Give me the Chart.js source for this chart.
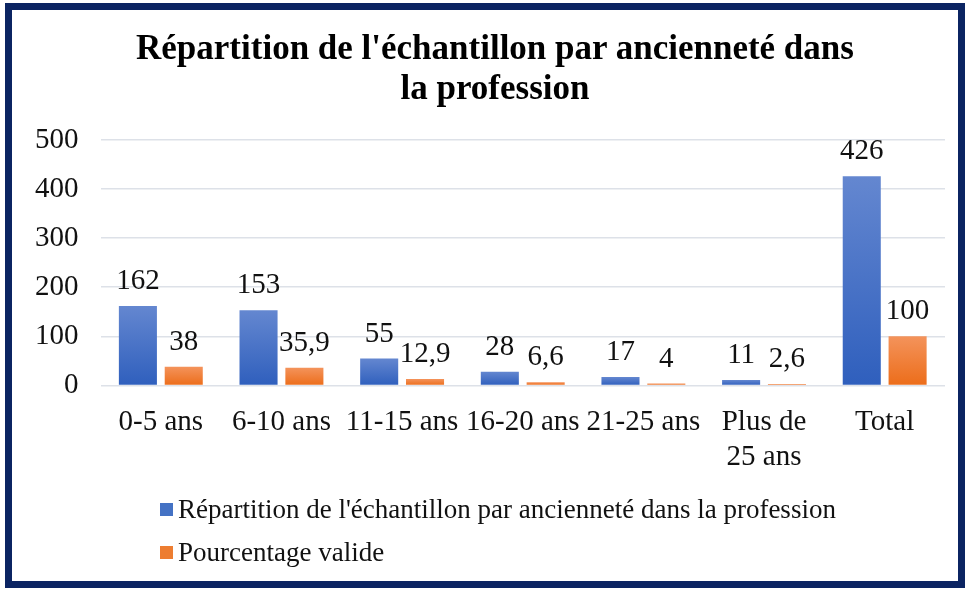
<!DOCTYPE html>
<html>
<head>
<meta charset="utf-8">
<script src="https://cdn.jsdelivr.net/npm/chart.js@4"></script>
<style>
  body { margin: 0; background: #fff; }
  #wrap { position: relative; width: 966px; height: 590px; }
  #frame {
    position: absolute; left: 5px; top: 3px; width: 946px; height: 571px;
    border: 7px solid #0b2462; pointer-events: none;
  }
  #titre {
    position: absolute; left: 95px; width: 800px; top: 28px; text-align: center;
    font-family: "Liberation Serif", "Times New Roman", serif; font-size: 35px; font-weight: bold;
    line-height: 40px; color: #000;
  }
  #legende {
    position: absolute; left: 160px; top: 488px;
    font-family: "Liberation Serif", "Times New Roman", serif; font-size: 27px; color: #111;
  }
  #legende div { height: 43px; display: flex; align-items: center; }
  #legende span.carre { display: inline-block; width: 13px; height: 13px; margin-right: 5px; }
</style>
</head>
<body>
<div id="wrap">
  <canvas id="graphique" width="966" height="590"></canvas>
  <div id="titre"></div>
  <div id="frame"></div>
  <div id="legende"></div>
</div>
<script>
const titre = ["Répartition de l'échantillon par ancienneté dans", 'la profession'];
const categories = ['0-5 ans', '6-10 ans', '11-15 ans', '16-20 ans', '21-25 ans', ['Plus de', '25 ans'], 'Total'];
const effectifs = [162, 153, 55, 28, 17, 11, 426];
const pourcentages = [38, 35.9, 12.9, 6.6, 4, 2.6, 100];
const yTicks = [0, 100, 200, 300, 400, 500];
const nomsSeries = ["Répartition de l'échantillon par ancienneté dans la profession", 'Pourcentage valide'];

const police = '"Liberation Serif", "Times New Roman", serif';

function degrade(haut, bas) {
    return function (context) {
        const chart = context.chart;
        if (!chart.chartArea || context.parsed === undefined) return bas;
        const yScale = chart.scales.y;
        const top = yScale.getPixelForValue(context.parsed.y);
        const bottom = yScale.getPixelForValue(0);
        if (bottom - top < 1) return bas;
        const g = chart.ctx.createLinearGradient(0, top, 0, bottom);
        g.addColorStop(0, haut);
        g.addColorStop(1, bas);
        return g;
    };
}

const etiquettes = {
    id: 'etiquettes',
    afterDatasetsDraw(chart) {
        const ctx = chart.ctx;
        ctx.save();
        ctx.font = '29px ' + police;
        ctx.fillStyle = '#111';
        ctx.textAlign = 'center';
        ctx.textBaseline = 'bottom';
        chart.data.datasets.forEach((ds, i) => {
            chart.getDatasetMeta(i).data.forEach((bar, j) => {
                const txt = String(ds.data[j]).replace('.', ',');
                ctx.fillText(txt, bar.x, bar.y - 10);
            });
        });
        ctx.restore();
    }
};

const graphique = new Chart(document.getElementById('graphique'), {
    type: 'bar',
    data: {
        labels: categories,
        datasets: [{
            label: nomsSeries[0],
            data: effectifs,
            backgroundColor: degrade('#6487d0', '#2f5fbd'),
            couleurLegende: '#4472c4'
        }, {
            label: nomsSeries[1],
            data: pourcentages,
            backgroundColor: degrade('#f4935b', '#ec6d1a'),
            couleurLegende: '#ed7d31'
        }]
    },
    options: {
        responsive: false,
        animation: false,
        categoryPercentage: 0.76,
        barPercentage: 0.83,
        layout: { padding: { left: 13, right: 21, top: 140, bottom: 95 } },
        plugins: {
            legend: { display: false },
            tooltip: { enabled: false },
            title: { display: false }
        },
        scales: {
            x: {
                grid: { display: false, drawTicks: false },
                border: { display: false },
                ticks: { color: '#111', font: { family: police, size: 29, lineHeight: 1.2 }, padding: 20, maxRotation: 0, autoSkip: false }
            },
            y: {
                min: 0,
                max: 500,
                afterBuildTicks: axis => { axis.ticks = yTicks.map(v => ({ value: v })); },
                grid: { color: '#dde1e8', lineWidth: 1.5, drawTicks: false },
                border: { display: false },
                ticks: { color: '#111', font: { family: police, size: 29 }, padding: 22 }
            }
        }
    },
    plugins: [etiquettes]
});

const boiteTitre = document.getElementById('titre');
titre.forEach(l => {
    const d = document.createElement('div');
    d.textContent = l;
    boiteTitre.appendChild(d);
});

const legende = document.getElementById('legende');
graphique.data.datasets.forEach(ds => {
    const ligne = document.createElement('div');
    const carre = document.createElement('span');
    carre.className = 'carre';
    carre.style.background = ds.couleurLegende;
    ligne.appendChild(carre);
    ligne.appendChild(document.createTextNode(ds.label));
    legende.appendChild(ligne);
});
</script>
</body>
</html>
